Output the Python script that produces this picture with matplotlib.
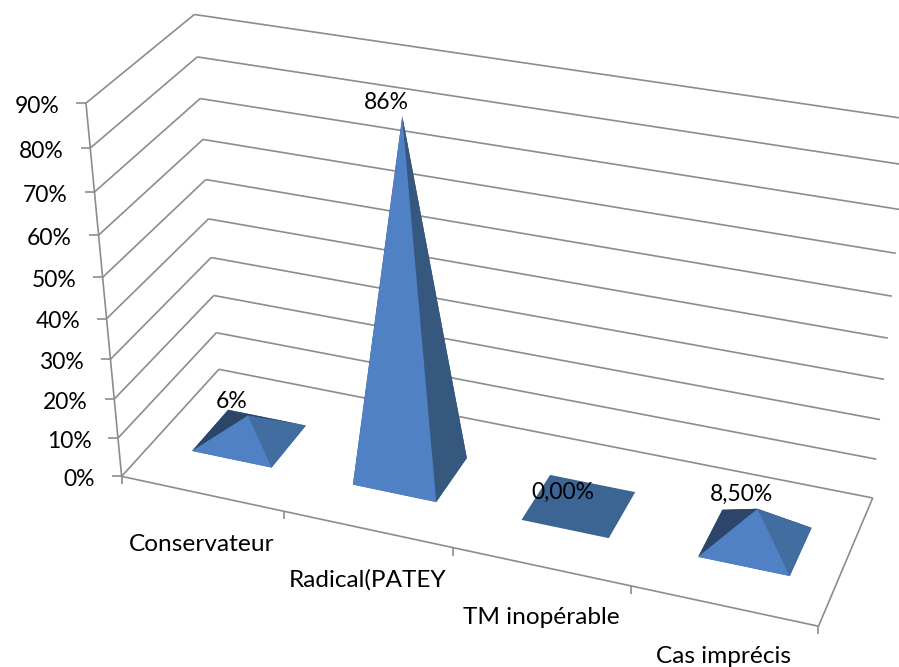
import numpy as np
import matplotlib
matplotlib.use("Agg")
import matplotlib.pyplot as plt

# ---- data ----
categories = ["Conservateur", "Radical(PATEY", "TM inopérable", "Cas imprécis"]
values = [6, 86, 0, 8.5]
value_labels = ["6%", "86%", "0,00%", "8,50%"]
y_ticks = [0, 10, 20, 30, 40, 50, 60, 70, 80, 90]

# ---- 3D frame: (category fraction, depth fraction, value) -> pixel ----
anchors = [
    (0, 0, 0, 122, 477), (1, 0, 0, 819, 626), (1, 1, 0, 873, 497), (0, 1, 0, 219, 369),
    (0.25, 0, 0, 282.7, 511), (0.5, 0, 0, 453, 548), (0.75, 0, 0, 631, 586),
    (0, 0, 90, 86, 103), (0, 0, 80, 90.7, 147.7), (0, 0, 70, 94.7, 192), (0, 0, 60, 98.7, 235),
    (0, 1, 90, 194, 14), (0, 1, 80, 197, 57), (0, 1, 70, 200, 98), (0, 1, 60, 203, 140),
    (0, 1, 50, 206, 180), (0, 1, 40, 208.7, 219),
    (1, 1, 60, 895.7, 253.7), (1, 1, 50, 891.7, 296.7), (1, 1, 40, 887.7, 338),
    (1, 1, 30, 884, 379.7), (1, 1, 20, 880, 419.7), (1, 1, 10, 876.7, 459),
]
A = []
for u, v, h, px, py in anchors:
    X = [u, v, h / 90, 1]
    A.append(X + [0, 0, 0, 0] + [-px * c for c in X])
    A.append([0, 0, 0, 0] + X + [-py * c for c in X])
P = np.linalg.svd(np.array(A))[2][-1].reshape(3, 4)


def proj(u, v, h=0.0):
    q = P @ np.array([u, v, h / 90, 1.0])
    return q[0] / q[2], q[1] / q[2]


GRID = "#8c8c8c"
LW = 1.2
FRONT = "#4f81c4"
SIDE_TALL = "#36587f"
SIDE_LOW = "#416da1"
LEFT = "#2b4668"
FLAT = "#3d6594"
SLOT = 0.25
HALF_W = 0.0625
CENTER_SHIFT = 0.001
V0, V1 = 0.30, 0.68
FS_NUM = 16.5
FS_CAT = 17.6

plt.rcParams["font.family"] = ["Lato", "DejaVu Sans"]
fig = plt.figure(figsize=(8.99, 6.67), dpi=100)
ax = fig.add_axes([0, 0, 1, 1])
ax.set_xlim(0, 899)
ax.set_ylim(667, 0)
ax.axis("off")


def seg(a, b, z=1):
    ax.plot([a[0], b[0]], [a[1], b[1]], color=GRID, lw=LW, zorder=z, solid_capstyle="butt")


# walls and gridlines
for t in y_ticks:
    fl, bl, br = proj(0, 0, t), proj(0, 1, t), proj(1, 1, t)
    seg(fl, bl)
    seg(bl, br)
    seg((fl[0] - 9.5, fl[1]), fl)
    ax.text(fl[0] - 26.5, fl[1] + 3, f"{t}%", ha="right", va="center", fontsize=FS_NUM, color="#000000", zorder=6)
seg(proj(0, 0, 0), proj(0, 0, 90))
seg(proj(0, 0, 0), proj(1, 0, 0))
seg(proj(1, 0, 0), proj(1, 1, 0))

# category ticks and labels
for i in range(len(categories) + 1):
    p = proj(i * SLOT, 0, 0)
    seg(p, (p[0], p[1] + 8))
for i, name in enumerate(categories):
    p = proj((i + 0.5) * SLOT, 0, 0)
    ax.text(p[0], p[1] + 51, name, ha="center", va="center", fontsize=FS_CAT, color="#000000", zorder=6)

# pyramids
for i, val in enumerate(values):
    c = (i + 0.5) * SLOT + CENTER_SHIFT
    vm = (V0 + V1) / 2
    fl, fr = proj(c - HALF_W, V0), proj(c + HALF_W, V0)
    br, bl = proj(c + HALF_W, V1), proj(c - HALF_W, V1)
    apex = proj(c, vm, val)
    ax.fill(*zip(fl, fr, br, bl), color=FLAT, lw=0, zorder=2)
    if val > 0:
        side = SIDE_TALL if val > 50 else SIDE_LOW
        ax.fill(*zip(bl, br, apex), color=LEFT, lw=0, zorder=2.1)
        ax.fill(*zip(fl, bl, apex), color=LEFT, lw=0, zorder=2.2)
        ax.fill(*zip(fr, br, apex), color=side, lw=0, zorder=2.3)
        ax.fill(*zip(fl, fr, apex), color=FRONT, lw=0, zorder=2.4)
    ax.text(apex[0] - 16, apex[1] - 14, value_labels[i], ha="center", va="center", fontsize=FS_NUM,
            color="#000000", zorder=6)

fig.savefig("out.png", dpi=100)
